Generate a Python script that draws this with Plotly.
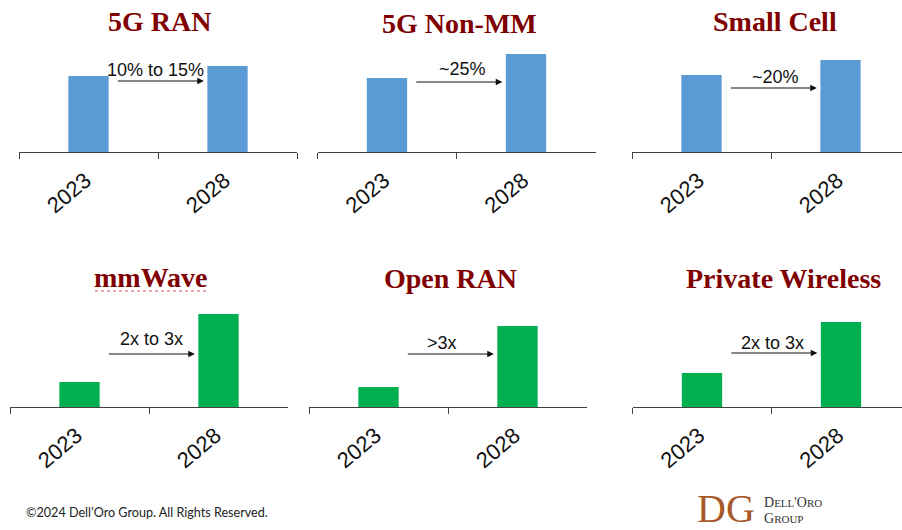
import plotly.graph_objects as go

# ---- data ----
categories = ["2023", "2028"]
titles = ["5G RAN", "5G Non-MM", "Small Cell", "mmWave", "Open RAN", "Private Wireless"]
values_2023 = [76, 74, 77, 25, 20, 34]
values_2028 = [86, 98, 92, 93, 81, 85]
growth_labels = ["10% to 15%", "~25%", "~20%", "2x to 3x", ">3x", "2x to 3x"]

# ---- styling / layout ----
W, H = 902, 530
BLUE, GREEN = "#5B9BD5", "#00B050"
bar_colors = [BLUE, BLUE, BLUE, GREEN, GREEN, GREEN]
TITLE_COLOR = "#800000"
AXIS_COLOR = "#404040"
CAT_W = 139.0
YMAX = 112.0

panel_x0 = [19, 317.5, 632, 10, 309, 632.5]
panel_base = [152, 152, 152, 407, 407, 407]
title_pos = [(159, 22), (459, 24), (775, 22), (151, 277), (450, 278), (783, 278)]
arrow_y = [71, 70, 64, 53, 53, 54]
label_x = [0.48, 0.54, 0.53, 0.52, 0.46, 0.51]
label_y = [82, 83, 75, 68, 64, 64]
ARROW_X0, ARROW_X1 = 0.2, 0.83

fig = go.Figure()
layout = dict(
    width=W, height=H,
    margin=dict(l=0, r=0, t=0, b=0),
    paper_bgcolor="white", plot_bgcolor="white",
    showlegend=False, bargap=0.71,
)
annotations = []
shapes = []

for i in range(6):
    n = "" if i == 0 else str(i + 1)
    xa, ya = "x" + n, "y" + n
    x0 = panel_x0[i]
    x1 = x0 + 2 * CAT_W
    rmax = 1.5
    if x1 > W:
        rmax = -0.5 + (W - x0) / CAT_W
        x1 = W
    base = panel_base[i]
    fig.add_trace(go.Bar(
        x=categories, y=[values_2023[i], values_2028[i]],
        marker=dict(color=bar_colors[i], line=dict(width=0)),
        xaxis=xa, yaxis=ya, hoverinfo="x+y",
    ))
    layout["xaxis" + n] = dict(
        domain=[x0 / W, x1 / W], anchor=ya, type="category",
        range=[-0.5, rmax], tickson="boundaries",
        showline=True, linecolor=AXIS_COLOR, linewidth=1,
        ticks="outside", ticklen=6, tickcolor=AXIS_COLOR, tickwidth=1,
        tickangle=-40, showgrid=False, zeroline=False,
        ticklabelstandoff=6, ticklabelshift=-3,
        tickfont=dict(family="Liberation Sans, Arial", size=22, color="#111111"),
        fixedrange=True,
    )
    layout["yaxis" + n] = dict(
        domain=[1 - base / H, 1 - (base - YMAX) / H], anchor=xa,
        range=[0, YMAX], visible=False, fixedrange=True,
    )
    # arrow
    annotations.append(dict(
        x=ARROW_X1, y=arrow_y[i], ax=ARROW_X0, ay=arrow_y[i],
        xref=xa, yref=ya, axref=xa, ayref=ya,
        showarrow=True, arrowhead=2, arrowsize=1.1, arrowwidth=1.2,
        arrowcolor="#111111", text="",
    ))
    annotations.append(dict(
        x=label_x[i], y=label_y[i], xref=xa, yref=ya,
        text=growth_labels[i], showarrow=False,
        xanchor="center", yanchor="middle",
        font=dict(family="Liberation Sans, Arial", size=18, color="#111111"),
    ))
    tx, ty = title_pos[i]
    annotations.append(dict(
        x=tx / W, y=1 - ty / H, xref="paper", yref="paper",
        text="<b>" + titles[i] + "</b>", showarrow=False,
        xanchor="center", yanchor="middle",
        font=dict(family="Liberation Serif, Times New Roman", size=28, color=TITLE_COLOR),
    ))

# spell-check squiggle under mmWave
shapes.append(dict(type="line", xref="paper", yref="paper",
                   x0=95 / W, x1=208 / W, y0=1 - 291 / H, y1=1 - 291 / H,
                   line=dict(color="#E05050", width=1, dash="dot")))

# footer
annotations.append(dict(
    x=24 / W, y=1 - 512 / H, xref="paper", yref="paper",
    text="©2024 Dell’Oro Group. All Rights Reserved.", showarrow=False,
    xanchor="left", yanchor="middle",
    font=dict(family="Lato, Open Sans", size=12.6, color="#222222"),
))
# logo
annotations.append(dict(
    x=695 / W, y=1 - 508 / H, xref="paper", yref="paper",
    text="DG", showarrow=False, xanchor="left", yanchor="middle",
    font=dict(family="Liberation Serif", size=40, color="#A8582A"),
))
annotations.append(dict(
    x=762 / W, y=1 - 502 / H, xref="paper", yref="paper",
    text="D<span style='font-size:11px'>ELL</span>'O<span style='font-size:11px'>RO</span>",
    showarrow=False, xanchor="left", yanchor="middle",
    font=dict(family="Liberation Serif", size=14, color="#333333"),
))
annotations.append(dict(
    x=762 / W, y=1 - 518 / H, xref="paper", yref="paper",
    text="G<span style='font-size:11px'>ROUP</span>",
    showarrow=False, xanchor="left", yanchor="middle",
    font=dict(family="Liberation Serif", size=14, color="#333333"),
))

layout["annotations"] = annotations
layout["shapes"] = shapes
fig.update_layout(**layout)
fig.write_html(
    "out.html",
    config={"displayModeBar": False},
    post_script="document.body.style.margin='0';document.body.style.overflow='hidden';",
)
